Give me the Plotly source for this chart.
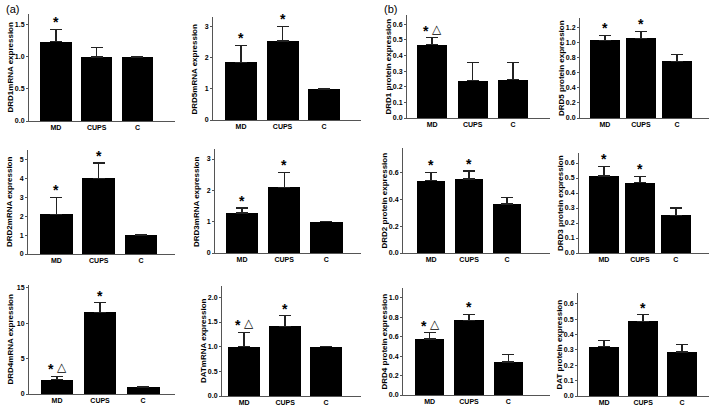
import plotly.graph_objects as go

W, H = 709, 406

groups = ["MD", "CUPS", "C"]

titles = ["DRD1mRNA expression", "DRD5mRNA expression", "DRD1 protein expression", "DRD5 protein expression",
          "DRD2mRNA expression", "DRD3mRNA expression", "DRD2 protein expression", "DRD3 protein expression",
          "DRD4mRNA expression", "DATmRNA expression", "DRD4 protein expression", "DAT protein expression"]

drd1_mrna = [1.24, 1.00, 1.00]
drd1_mrna_err = [0.19, 0.15, 0.005]
drd5_mrna = [1.86, 2.55, 1.00]
drd5_mrna_err = [0.55, 0.47, 0.01]
drd1_prot = [0.47, 0.24, 0.245]
drd1_prot_err = [0.045, 0.115, 0.11]
drd5_prot = [1.035, 1.06, 0.755]
drd5_prot_err = [0.065, 0.095, 0.09]
drd2_mrna = [2.10, 4.00, 1.00]
drd2_mrna_err = [0.90, 0.82, 0.01]
drd3_mrna = [1.28, 2.10, 1.00]
drd3_mrna_err = [0.16, 0.47, 0.01]
drd2_prot = [0.538, 0.55, 0.363]
drd2_prot_err = [0.062, 0.06, 0.047]
drd3_prot = [0.513, 0.469, 0.251]
drd3_prot_err = [0.065, 0.042, 0.049]
drd4_mrna = [2.03, 11.56, 1.00]
drd4_mrna_err = [0.47, 1.32, 0.03]
dat_mrna = [1.00, 1.41, 1.00]
dat_mrna_err = [0.29, 0.22, 0.01]
drd4_prot = [0.577, 0.768, 0.34]
drd4_prot_err = [0.065, 0.062, 0.077]
dat_prot = [0.32, 0.486, 0.287]
dat_prot_err = [0.043, 0.044, 0.048]

values = [drd1_mrna, drd5_mrna, drd1_prot, drd5_prot, drd2_mrna, drd3_mrna,
          drd2_prot, drd3_prot, drd4_mrna, dat_mrna, drd4_prot, dat_prot]
errors = [drd1_mrna_err, drd5_mrna_err, drd1_prot_err, drd5_prot_err, drd2_mrna_err, drd3_mrna_err,
          drd2_prot_err, drd3_prot_err, drd4_mrna_err, dat_mrna_err, drd4_prot_err, dat_prot_err]
# significance: "*" vs control, "*^" = also triangle vs CUPS
marks = [["*", "", ""], ["*", "*", ""], ["*^", "", ""], ["*", "*", ""],
         ["*", "*", ""], ["*", "*", ""], ["*", "*", ""], ["*", "*", ""],
         ["*^", "*", ""], ["*^", "*", ""], ["*^", "*", ""], ["", "*", ""]]

# y axis: top value, tick step, format
yranges = [1.67, 3.32, 0.66, 1.33, 5.5, 3.32, 0.78, 0.667, 15.4, 2.23, 1.10, 0.67]
ydticks = [0.5, 1, 0.1, 0.2, 1, 1, 0.2, 0.1, 5, 0.5, 0.2, 0.1]
yfmts = [".1f", "d", ".1f", ".1f", "d", "d", ".1f", ".1f", "d", ".1f", ".1f", ".1f"]

# panel pixel boxes: left, right, top, bottom
boxes = [(29, 175, 14, 121), (213, 361, 17, 120), (407, 550, 15, 118), (580, 709, 18, 118),
         (28, 175, 150, 254), (215, 361, 149, 253), (403, 550, 148, 253), (579, 709, 153, 253),
         (29, 175, 285, 394), (222, 361, 286, 396), (403, 550, 288, 395), (578, 709, 293, 396)]
xranges = [(-0.66, 2.92), (-0.675, 2.89), (-0.62, 2.91), (-0.69, 2.89),
           (-0.67, 2.8), (-0.64, 2.82), (-0.74, 3.13), (-0.69, 2.92),
           (-0.65, 2.74), (-0.54, 2.85), (-0.68, 3.06), (-0.67, 2.69)]
barwidths = [0.77, 0.77, 0.74, 0.83, 0.77, 0.77, 0.75, 0.83, 0.76, 0.77, 0.75, 0.77]

FONT = "Liberation Sans"
fig = go.Figure()
annotations = []

for i in range(12):
    n = "" if i == 0 else str(i + 1)
    xa, ya = "x" + n, "y" + n
    fig.add_trace(go.Bar(
        x=[0, 1, 2], y=values[i], xaxis=xa, yaxis=ya, width=barwidths[i],
        marker=dict(color="black", line=dict(width=0)),
        error_y=dict(type="data", symmetric=False, array=errors[i], arrayminus=[0, 0, 0],
                     color="#222222", thickness=1.3, width=6),
        showlegend=False, hoverinfo="skip"))
    l, r, t, b = boxes[i]
    fig.layout["xaxis" + n] = dict(
        domain=[l / W, r / W], anchor=ya, range=list(xranges[i]), automargin=False,
        tickmode="array", tickvals=[0, 1, 2], ticktext=groups,
        showline=True, linecolor="#555555", linewidth=1, ticks="", showgrid=False, zeroline=False,
        tickfont=dict(family=FONT, size=7, color="black", weight="bold"), fixedrange=True)
    fig.layout["yaxis" + n] = dict(
        domain=[1 - b / H, 1 - t / H], anchor=xa, range=[0, yranges[i]], automargin=False,
        dtick=ydticks[i], tick0=0, tickformat=yfmts[i],
        showline=True, linecolor="#555555", linewidth=1, ticks="outside", ticklen=2, tickcolor="#555555",
        showgrid=False, zeroline=False,
        tickfont=dict(family=FONT, size=7, color="black", weight="bold"), fixedrange=True)
    annotations.append(dict(
        text=titles[i], textangle=-90, xref=xa + " domain", yref=ya + " domain",
        x=0, y=0.5, xanchor="center", yanchor="middle", xshift=-19, showarrow=False,
        font=dict(family=FONT, size=8, color="black", weight="bold")))
    for j in range(3):
        m = marks[i][j]
        if not m:
            continue
        top = values[i][j] + errors[i][j]
        tri = "^" in m
        annotations.append(dict(
            text="*", xref=xa, yref=ya, x=j, y=top,
            xanchor="center", yanchor="bottom", yshift=-3, xshift=-6 if tri else 0, showarrow=False,
            font=dict(family=FONT, size=14, color="#000000", weight="bold")))
        if tri:
            annotations.append(dict(
                text="△", xref=xa, yref=ya, x=j, y=top,
                xanchor="center", yanchor="bottom", yshift=0, xshift=5, showarrow=False,
                font=dict(family="DejaVu Sans", size=12, color="#000000")))

annotations.append(dict(text="(a)", xref="paper", yref="paper", x=4 / W, y=1 - 1 / H,
                        xanchor="left", yanchor="top", showarrow=False,
                        font=dict(family=FONT, size=11, color="black")))
annotations.append(dict(text="(b)", xref="paper", yref="paper", x=382 / W, y=1 - 1 / H,
                        xanchor="left", yanchor="top", showarrow=False,
                        font=dict(family=FONT, size=11, color="black")))

fig.update_layout(template="none", width=W, height=H, margin=dict(l=0, r=0, t=0, b=0, autoexpand=False),
                  paper_bgcolor="white", plot_bgcolor="white", bargap=0,
                  annotations=annotations)
fig.write_html("out.html", config={"displayModeBar": False, "staticPlot": True},
               post_script="document.body.style.margin='0';document.body.style.overflow='hidden';")
